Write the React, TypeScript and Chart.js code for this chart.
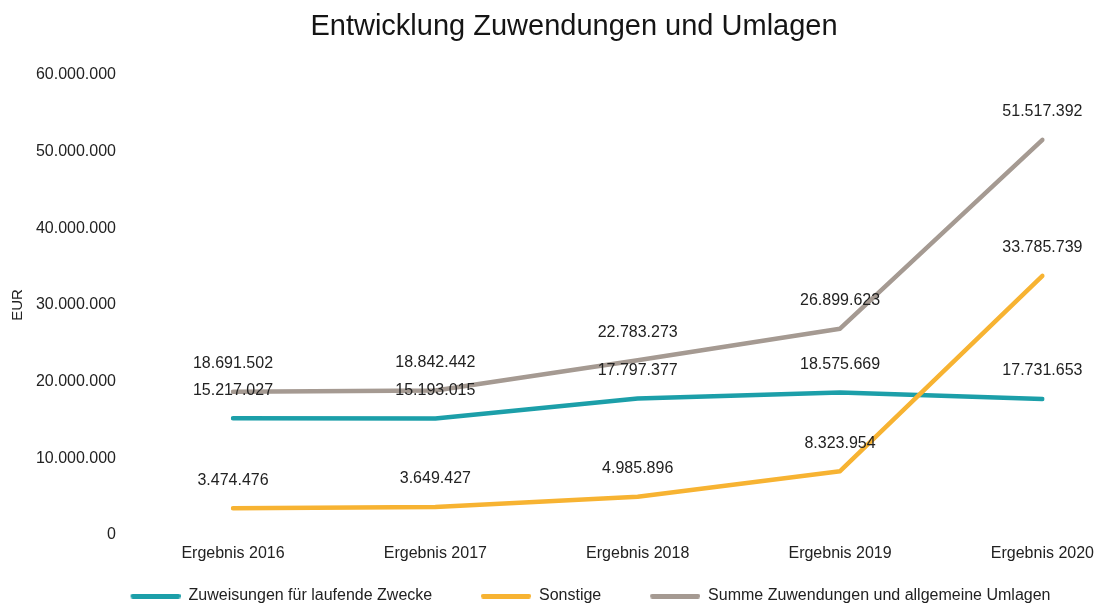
import React, { useEffect, useRef } from "react";
import { Chart, registerables } from "chart.js";

Chart.register(...registerables);

const categories = ["Ergebnis 2016", "Ergebnis 2017", "Ergebnis 2018", "Ergebnis 2019", "Ergebnis 2020"];
const seriesNames = [
  "Zuweisungen für laufende Zwecke",
  "Sonstige",
  "Summe Zuwendungen und allgemeine Umlagen",
];
const zuweisungen = [15217027, 15193015, 17797377, 18575669, 17731653];
const sonstige = [3474476, 3649427, 4985896, 8323954, 33785739];
const summe = [18691502, 18842442, 22783273, 26899623, 51517392];
const seriesColors = ["#1c9fa9", "#f7b332", "#a59a92"];
const seriesDrawOrder = [1, 0, 2];
const yMin = 0;
const yMax = 60000000;
const yStep = 10000000;

const titleText = "Entwicklung Zuwendungen und Umlagen";
const yAxisTitle = "EUR";
const FONT = '"Liberation Sans", Arial, Helvetica, sans-serif';

function formatDE(v: number): string {
  return String(Math.round(v)).replace(/\B(?=(\d{3})+(?!\d))/g, ".");
}

const LEGEND_GAP = 33;
const LEGEND_LINE = 50;

// legend symbol: transparent lead-in followed by a short thick line
function legendSymbol(color: string): HTMLCanvasElement {
  const gap = LEGEND_GAP;
  const len = LEGEND_LINE;
  const h = 5;
  const c = document.createElement("canvas");
  c.width = gap + len;
  c.height = h;
  const g = c.getContext("2d")!;
  g.fillStyle = color;
  g.beginPath();
  g.moveTo(gap + h / 2, 0);
  g.lineTo(gap + len - h / 2, 0);
  g.arc(gap + len - h / 2, h / 2, h / 2, -Math.PI / 2, Math.PI / 2);
  g.lineTo(gap + h / 2, h);
  g.arc(gap + h / 2, h / 2, h / 2, Math.PI / 2, (3 * Math.PI) / 2);
  g.closePath();
  g.fill();
  return c;
}

const dataLabelPlugin = {
  id: "dataLabels",
  afterDatasetsDraw(chart: any) {
    const ctx = chart.ctx;
    ctx.save();
    ctx.font = `16px ${FONT}`;
    ctx.fillStyle = "#222222";
    ctx.textAlign = "center";
    ctx.textBaseline = "middle";
    chart.data.datasets.forEach((ds: any, i: number) => {
      const meta = chart.getDatasetMeta(i);
      meta.data.forEach((pt: any, j: number) => {
        ctx.fillText(formatDE(ds.data[j]), pt.x, pt.y - 28);
      });
    });
    ctx.restore();
  },
};

const spacerAxis = (position: string, width: number) => ({
  type: "linear",
  position,
  display: true,
  grid: { display: false, drawTicks: false },
  border: { display: false },
  ticks: { display: false },
  title: { display: false },
  weight: 0,
  afterFit: (s: any) => {
    s.width = width;
  },
});

export default function App() {
  const canvasRef = useRef<HTMLCanvasElement | null>(null);

  useEffect(() => {
    if (!canvasRef.current) return;
    Chart.defaults.font.family = FONT;
    Chart.defaults.color = "#222222";
    const allSeries = [zuweisungen, sonstige, summe];
    const symbols = seriesColors.map((c) => legendSymbol(c));
    const chart = new Chart(canvasRef.current, {
      type: "line",
      data: {
        labels: categories,
        datasets: allSeries.map((d, i) => ({
          label: seriesNames[i],
          data: d,
          yAxisID: "y",
          order: seriesDrawOrder[i],
          borderColor: seriesColors[i],
          backgroundColor: seriesColors[i],
          borderWidth: 4.5,
          pointRadius: 0,
          pointHoverRadius: 0,
          tension: 0,
          borderCapStyle: "round",
          borderJoinStyle: "round",
          fill: false,
        })),
      },
      options: {
        responsive: false,
        animation: false,
        layout: { padding: { left: 34, right: -11, top: 0, bottom: -9 } },
        plugins: {
          title: {
            display: true,
            text: titleText,
            color: "#151515",
            font: { size: 29, weight: "normal" },
            padding: { top: 10, bottom: 30 },
          },
          legend: {
            position: "bottom",
            labels: {
              usePointStyle: true,
              pointStyleWidth: LEGEND_GAP + LEGEND_LINE,
              padding: 15.8,
              color: "#222222",
              font: { size: 16 },
              sort: (a: any, b: any) => a.datasetIndex - b.datasetIndex,
              generateLabels: (c: any) =>
                Chart.defaults.plugins.legend.labels.generateLabels(c).map((l: any) => ({
                  ...l,
                  pointStyle: symbols[l.datasetIndex],
                })),
            },
          },
          tooltip: { enabled: false },
        },
        scales: {
          x: {
            offset: false,
            grid: { display: false, drawTicks: false },
            border: { display: false },
            ticks: { font: { size: 16 }, color: "#222222", padding: 9, maxRotation: 0, autoSkip: false },
          },
          y: {
            min: yMin,
            max: yMax,
            weight: 1,
            grid: { display: false, drawTicks: false },
            border: { display: false },
            ticks: {
              stepSize: yStep,
              font: { size: 16 },
              color: "#222222",
              padding: 8,
              callback: (v: any) => formatDE(Number(v)),
            },
            title: {
              display: true,
              text: yAxisTitle,
              font: { size: 15 },
              color: "#222222",
              padding: { top: -25, bottom: 0 },
            },
            afterFit: (s: any) => {
              s.width = 90;
            },
          },
          yInner: spacerAxis("left", 109),
          yRight: spacerAxis("right", 69),
        },
      },
      plugins: [dataLabelPlugin],
    } as any);
    return () => chart.destroy();
  }, []);

  return (
    <div style={{ position: "absolute", left: 0, top: 0, width: 1103, height: 605, background: "#ffffff" }}>
      <canvas ref={canvasRef} width={1103} height={605} style={{ display: "block" }} />
    </div>
  );
}
